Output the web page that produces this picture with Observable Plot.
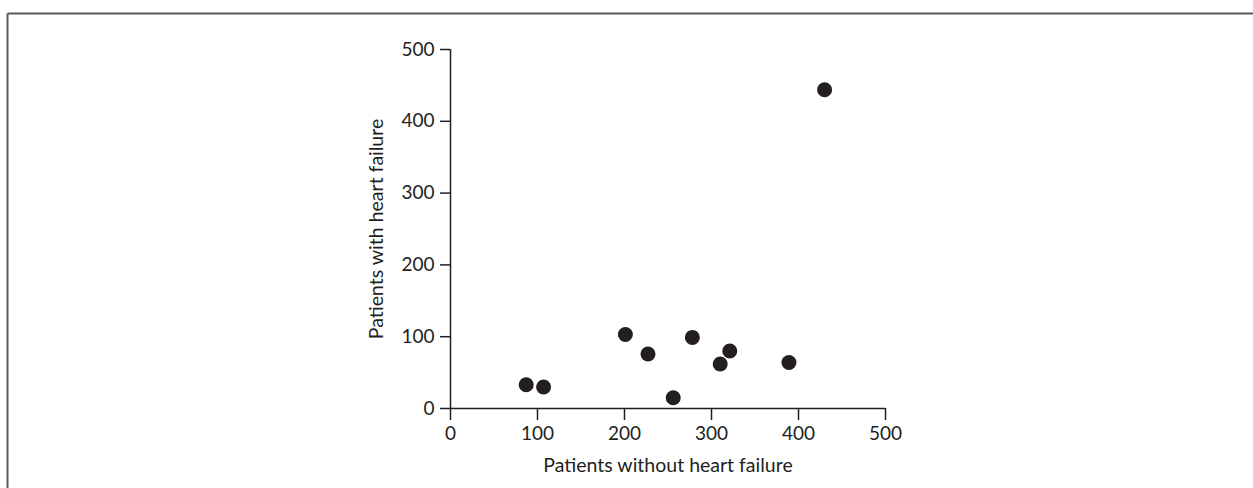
<!DOCTYPE html>
<html>
<head>
<meta charset="utf-8">
<script src="https://cdn.jsdelivr.net/npm/d3@7"></script>
<script src="https://cdn.jsdelivr.net/npm/@observablehq/plot@0.6"></script>
<style>
  html, body { margin: 0; padding: 0; background: #fff; }
  #chart svg { display: block; }
</style>
</head>
<body>
<div id="chart"></div>
<script>
const withoutHF = [87, 107, 201, 227, 256, 278, 310, 321, 389, 430];
const withHF    = [33, 30, 103, 76, 15, 99, 62, 80, 64, 444];
const xTicks = [0, 100, 200, 300, 400, 500];
const yTicks = [0, 100, 200, 300, 400, 500];
const xLabel = "Patients without heart failure";
const yLabel = "Patients with heart failure";

const data = withoutHF.map((x, i) => ({x, y: withHF[i]}));
const ink = "#231f20";

const plot = Plot.plot({
  width: 1253,
  height: 488,
  marginLeft: 450,
  marginRight: 368,
  marginTop: 49,
  marginBottom: 80,
  style: {fontFamily: "Lato, sans-serif", fontSize: "19px", color: ink, background: "white"},
  x: {domain: [0, 500]},
  y: {domain: [0, 500]},
  marks: [
    Plot.axisX({ticks: xTicks, tickSize: 12, tickPadding: 6, tickFormat: d => String(d), stroke: ink, strokeWidth: 1.5, strokeOpacity: 1,
      fontSize: 19, label: null, fill: ink}),
    Plot.axisX({ticks: [], tickSize: 0, label: xLabel, labelAnchor: "center", labelArrow: "none", labelOffset: 63, fontSize: 19.5, fill: ink}),
    Plot.axisY({ticks: yTicks, tickSize: 10, tickPadding: 6, tickFormat: d => String(d), stroke: ink, strokeWidth: 1.5, strokeOpacity: 1,
      fontSize: 19, label: null, fill: ink}),
    Plot.axisY({ticks: [], tickSize: 0, label: yLabel, labelAnchor: "center", labelArrow: "none", labelOffset: 81, fontSize: 19.5, fill: ink}),
    Plot.ruleY([0], {stroke: ink, strokeWidth: 1.5}),
    Plot.ruleX([0], {stroke: ink, strokeWidth: 1.5}),
    Plot.dot(data, {x: "x", y: "y", r: 7.5, fill: ink, stroke: "none"})
  ]
});

const svg = d3.select(plot);
svg.append("line").attr("x1", 7.5).attr("x2", 1253).attr("y1", 13.5).attr("y2", 13.5)
  .attr("stroke", "#5a5a5a").attr("stroke-width", 2);
svg.append("line").attr("x1", 7.5).attr("x2", 7.5).attr("y1", 13.5).attr("y2", 488)
  .attr("stroke", "#5a5a5a").attr("stroke-width", 2);

document.getElementById("chart").appendChild(plot);
</script>
</body>
</html>
